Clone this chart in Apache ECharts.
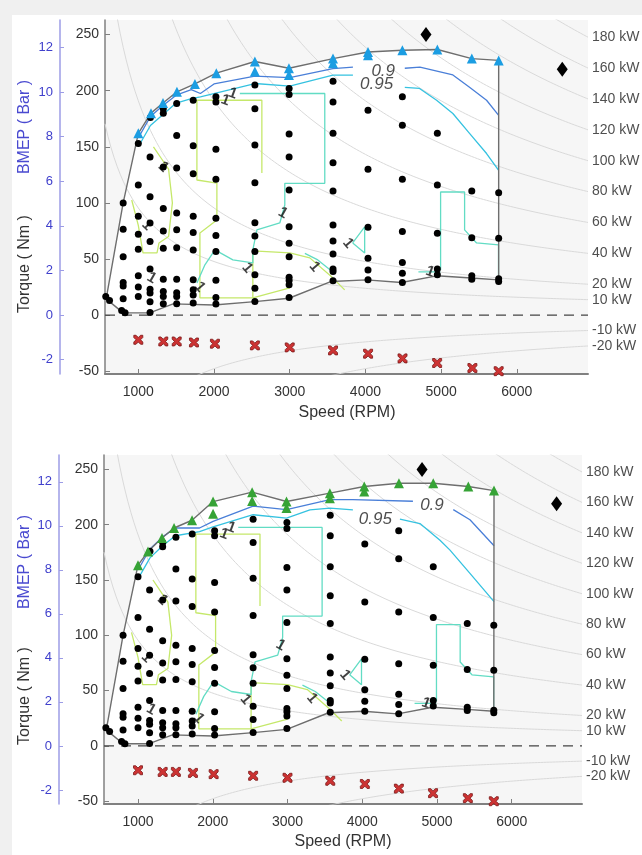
<!DOCTYPE html>
<html><head><meta charset="utf-8">
<script src="https://cdn.jsdelivr.net/npm/echarts@6/dist/echarts.min.js"></script>
<style>html,body{margin:0;padding:0;background:#f0f0f0;}#wrap{position:absolute;left:12px;top:15px;width:630px;height:840px;background:#fff;}#c{position:absolute;left:0;top:0;width:642px;height:855px;}</style>
</head><body><div id="wrap"></div><div id="c"></div>
<script>
// ---------- data ----------
const speedTicks = [1000, 2000, 3000, 4000, 5000, 6000];
const torqueTicks = [-50, 0, 50, 100, 150, 200, 250];
const bmepTicks = [-2, 0, 2, 4, 6, 8, 10, 12];
const powerLevels = [180, 160, 140, 120, 100, 80, 60, 40, 20, 10, -10, -20];
const NM_PER_BAR = 19.89;

const testPoints = [
 [570,16.5],[620,13],[780,4],[825,2],
 [800,100],[800,76.5],[800,52],[800,29],[800,26],[800,14.5],
 [1000,153],[1000,116],[1000,88],[1000,72],[1000,58.7],[1000,35],[1000,25],[1000,16.5],
 [1160,176],[1155,141],[1155,105.5],[1155,82],[1155,65.5],[1155,41],[1155,23],[1155,19.6],[1155,12],[1155,2.3],
 [1330,184],[1330,180],[1330,132],[1330,95],[1330,75],[1330,59.6],[1330,32],[1330,21],[1330,16.5],[1330,10],
 [1507,188.6],[1507,160],[1507,131],[1507,91],[1507,76],[1507,60],[1507,32],[1507,20],[1507,16.5],[1507,10],
 [1725,191.5],[1725,151],[1725,126],[1725,88],[1725,73.5],[1725,58],[1725,31.4],[1725,22.5],[1725,18],[1725,10.7],
 [2025,194.5],[2025,190],[2025,147.7],[2025,121],[2025,86.3],[2025,71],[2025,56.6],[2025,31],[2025,15.7],[2025,9.8],
 [2540,205],[2540,184],[2540,151.5],[2540,118],[2540,82.4],[2540,70.6],[2540,56.6],[2540,35.9],[2540,24],[2540,12.1],
 [2992,202],[2992,196.6],[2992,161.3],[2992,141],[2992,111.5],[2992,78.8],[2992,64],[2992,52],[2992,33.8],[2992,30.8],[2992,27],[2992,15.7],
 [3572,208.5],[3572,190],[3572,162],[3572,135.8],[3572,110.6],[3572,80.3],[3572,66],[3572,54.5],[3572,41],[3572,38.8],[3572,30.5],
 [4034,182.6],[4034,130],[4034,78.3],[4034,50.7],[4034,40.3],[4034,31.4],
 [4488,194.5],[4488,169.3],[4488,121],[4488,74.4],[4488,46.8],[4488,37.4],[4488,29],
 [4950,162],[4950,116],[4950,73],[4950,41],[4950,36],
 [5405,110.6],[5405,69],[5405,35],[5405,32],
 [5760,109],[5760,68.5],[5760,32.3],[5760,30]
];
const fullLoadTop = [
 [1000,162],[1168,180],[1326,189],[1510,199],[1748,206],[2030,215.6],[2540,226],[2540,217],
 [2990,220],[2990,214],[3572,228.6],[3572,224.5],[4034,234.5],[4034,231.6],[4488,236],[4950,236.7],[5405,228.6],[5760,227]
];
const fullLoadBottom = [
 [1000,163.4],[1134,175.7],[1321,188],[1482,197],[1723,204],[2004,220.9],[2004,210],[2527,229.4],[2527,221.5],
 [2987,221],[2987,215],[3567,228.5],[3567,224],[4027,234.5],[4027,230],[4491,237.5],[4950,237.5],[5419,234.5],[5763,230.8]
];
const motoringPoints = [
 [1000,-22],[1330,-23.5],[1507,-23.5],[1735,-24.4],[2012,-25.5],[2540,-27],[3000,-28.8],[3572,-31.5],
 [4035,-34.4],[4490,-38.6],[4947,-42.7],[5413,-47.2],[5760,-50]
];
const ratedPoints = [[4800,250],[6600,219]];
const lowerEdge = [
 [570,16.5],[620,12],[800,2],[1150,2],[1460,10],[2000,9],[2540,12],[2990,15],[3550,30],[4015,31.4],
 [4475,29],[4940,35],[5400,33],[5760,31.4]
];
const upperEdgeTop = [
 [5760,227],[5405,228.6],[4950,236.7],[4488,236],[4034,234.5],[3572,228.6],[2990,220],[2540,226],
 [2030,215.6],[1748,206],[1510,199],[1326,189],[1168,180],[1000,162],[800,100],[590,20],[570,16.5]
];
const upperEdgeBottom = [
 [5763,230.8],[5419,234.5],[4950,237.5],[4491,237.5],[4027,234.5],[3567,228.5],[2987,221],[2527,229.4],
 [2004,220.9],[1723,204],[1482,197],[1321,188],[1134,175.7],[1000,163.4],[800,100],[590,20],[570,16.5]
];
// efficiency contours
const c090Top = [[[1000,158],[1160,177],[1330,187],[1500,196],[1700,201],[1820,197.5],[2000,206],[2540,213],[3000,211.7],[3570,219.7],[3835,221]],
                 [[4520,220],[4720,221],[5155,214],[5375,203],[5600,191.5],[5760,178]]];
const c095Top = [[[1000,150],[1160,169],[1330,179],[1500,189],[1700,193],[1820,194.5],[2540,206.4],[3000,204],[3570,213.8],[3835,213.8]],
                 [[4520,203],[4715,202],[4940,191.5],[5155,179.7],[5375,162],[5600,144],[5760,129]]];
const c090Bottom = [[[1000,159],[1160,178],[1330,189],[1500,197],[1823,197],[2004,203],[2540,216.7],[2987,213.7],[3567,222.7],[3875,222.7],[4678,221.2]],
                    [[5218,213.6],[5441,204.5],[5763,181]]];
const c095Bottom = [[[1000,151],[1160,170],[1330,181],[1500,190],[1823,193.8],[2004,198],[2540,209],[2987,206],[3300,213.4],[3567,215],[3875,213.4]],
                    [[4504,205],[4772,201],[5040,186],[5174,177],[5441,156],[5763,130.5]]];
const c100 = [
 [[2341,197.5],[3463,197.5],[3463,117.4],[2935,117.4],[2935,98.1],[2869,82.1],[2566,75.9],[2513,58.1],[2513,46.5],[2249,49.2],[2012,58.1],[1880,44.8],[1774,28.7]],
 [[4993,40.3],[4993,109.7],[5310,109.7],[5310,75.9],[5468,64.3],[5758,62.5],[5758,31.4]],
 [[3832,64.3],[3990,78.6],[3990,55.4],[3832,64.3]],
 [[3200,55],[3371,49.2],[3569,38.5]],
 [[4700,38.5],[4990,38.5]]
];
const c105 = [
 [[2632,126.6],[2632,191.5],[1774,191.5],[1774,120.4],[2038,117.7],[2038,84.8],[1814,73.2],[1814,15.4],[2513,15.4],[3001,24.3]],
 [[2513,15.4],[2513,57.2],[3001,55.4],[3265,51],[3568,33.2],[3726,22.5]],
 [[913,102.6],[1000,80],[1062,55.4],[1247,55.4],[1273,64.3],[1400,70],[1450,100],[1400,130],[1300,140],[1200,150]]
];
const levelLabelsTop = [["0.9",4235,217],["0.95",4148,206]];
const levelLabelsBottom = [["0.9",4933,218],["0.95",4176,205]];
const oneLabels = [[2150,191.5,-20],[2250,197.5,-20],[1330,132,-45],[1115,80,-45],[1175,33,-30],[1813,25,-50],[2910,91,-30],[2440,42,-50],[3330,43,-50],[3770,64,-50],[4855,38.5,-20]];

// ---------- chart ----------
const FONT = '"Liberation Sans", Arial, sans-serif';
const panels = [
 {grid:{left:105,top:20,width:483,height:354}, xmin:560, xmax:6940, tri:fullLoadTop, triColor:'#1b9de2',
  upper:upperEdgeTop, c090:c090Top, c095:c095Top, lab:levelLabelsTop, speedY:413, bmepY:127, torqueY:264},
 {grid:{left:104,top:455,width:478,height:349}, xmin:545, xmax:6940, tri:fullLoadBottom, triColor:'#36a336',
  upper:upperEdgeBottom, c090:c090Bottom, c095:c095Bottom, lab:levelLabelsBottom, speedY:842, bmepY:562, torqueY:696}
];
const YMIN = -52.5, YMAX = 263;
const grids = [], xAxes = [], yAxes = [], series = [], graphics = [];
const xPath = 'path://M0,0 L2.5,0 L5,2.5 L7.5,0 L10,0 L10,2.5 L7.5,5 L10,7.5 L10,10 L7.5,10 L5,7.5 L2.5,10 L0,10 L0,7.5 L2.5,5 L0,2.5 Z';

panels.forEach((p, i) => {
  grids.push(Object.assign({show:true, backgroundColor:'#f6f6f6', borderWidth:0}, p.grid));
  xAxes.push({type:'value', gridIndex:i, min:p.xmin, max:p.xmax, splitLine:{show:false},
    axisLine:{onZero:false, lineStyle:{color:'#808080', width:2}},
    axisTick:{inside:true, length:5, customValues:speedTicks, lineStyle:{color:'#808080'}},
    axisLabel:{customValues:speedTicks, formatter:v => String(v), color:'#333', fontSize:14, fontFamily:FONT, margin:11}});
  yAxes.push({type:'value', gridIndex:i, min:YMIN, max:YMAX, splitLine:{show:false},
    axisLine:{show:true, onZero:false, lineStyle:{color:'#808080', width:1.5}},
    axisTick:{inside:true, length:5, customValues:torqueTicks, lineStyle:{color:'#808080'}},
    axisLabel:{customValues:torqueTicks, formatter:v => String(v), color:'#333', fontSize:14, fontFamily:FONT, margin:6}});
  yAxes.push({type:'value', gridIndex:i, position:'left', offset:45, min:YMIN/NM_PER_BAR, max:YMAX/NM_PER_BAR, splitLine:{show:false},
    axisLine:{show:true, onZero:false, lineStyle:{color:'#9c9ce6', width:1.5}},
    axisTick:{inside:true, length:4, customValues:bmepTicks, lineStyle:{color:'#9c9ce6'}},
    axisLabel:{customValues:bmepTicks, formatter:v => String(v), color:'#4040cc', fontSize:13, fontFamily:FONT, margin:7}});
  const xi = i, yi = i*2;
  const poly = lowerEdge.concat(p.upper);
  series.push({type:'custom', xAxisIndex:xi, yAxisIndex:yi, z:1, silent:true, data:[0],
    renderItem:(params, api) => ({type:'polygon', shape:{points: poly.map(q => api.coord(q))}, style:{fill:'#ffffff'}})});
  // iso-power reference curves: T = 9549*P/N
  powerLevels.forEach(P => {
    const pts = [];
    for (let n = p.xmin; n <= p.xmax + 1; n += 40) pts.push([n, 9549*P/n]);
    pts.push([p.xmax, 9549*P/p.xmax]);
    series.push({type:'line', xAxisIndex:xi, yAxisIndex:yi, z:2, data:pts, showSymbol:false, silent:true,
      lineStyle:{color:'#d9d9d9', width:1}, clip:true});
  });
  series.push({type:'scatter', xAxisIndex:xi, yAxisIndex:yi, z:3, symbolSize:0, clip:false, silent:true,
    data: powerLevels.map(P => [p.xmax, 9549*P/p.xmax, P]),
    label:{show:true, position:'right', distance:4, color:'#222', fontSize:14, fontFamily:FONT,
      formatter: d => d.data[2] + ' kW'}});
  series.push({type:'line', xAxisIndex:xi, yAxisIndex:yi, z:3, data:[[p.xmin,0],[p.xmax,0]], showSymbol:false, silent:true,
    lineStyle:{color:'#444', width:1.3, type:[10,7]}});
  const addLines = (segs, color) => segs.forEach(seg => series.push({type:'line', xAxisIndex:xi, yAxisIndex:yi, z:4, data:seg,
    showSymbol:false, silent:true, lineStyle:{color:color, width:1.3}}));
  addLines(c105, '#c5e86a');
  addLines(c100, '#62dcc4');
  addLines(p.c095, '#35c2e0');
  addLines(p.c090, '#4a7fd8');
  series.push({type:'scatter', xAxisIndex:xi, yAxisIndex:yi, z:5, symbolSize:0, silent:true,
    data:p.lab.map(l => [l[1], l[2], l[0]]),
    label:{show:true, position:'inside', color:'#222', fontSize:17, fontStyle:'italic', fontFamily:FONT, formatter:d => d.data[2]}});
  oneLabels.forEach(o => series.push({type:'scatter', xAxisIndex:xi, yAxisIndex:yi, z:5, symbolSize:0, silent:true,
    data:[[o[0], o[1]]], label:{show:true, position:'inside', rotate:o[2], color:'#111', fontSize:15, fontWeight:'bold', fontFamily:FONT, formatter:'1'}}));
  series.push({type:'line', xAxisIndex:xi, yAxisIndex:yi, z:6, data:poly, showSymbol:false, silent:true,
    lineStyle:{color:'#6e6e6e', width:1.4}});
  series.push({type:'scatter', xAxisIndex:xi, yAxisIndex:yi, z:7, data:testPoints, symbol:'circle', symbolSize:7,
    itemStyle:{color:'#000', opacity:1}});
  series.push({type:'scatter', xAxisIndex:xi, yAxisIndex:yi, z:8, data:p.tri, symbol:'triangle', symbolSize:[10,10],
    itemStyle:{color:p.triColor, opacity:1}});
  series.push({type:'scatter', xAxisIndex:xi, yAxisIndex:yi, z:8, data:motoringPoints, symbol:xPath, symbolSize:9,
    itemStyle:{color:'#cc3333', borderColor:'#7a1616', borderWidth:0.8, opacity:1}});
  series.push({type:'scatter', xAxisIndex:xi, yAxisIndex:yi, z:8, data:ratedPoints, symbol:'diamond', symbolSize:[11,15], clip:false,
    itemStyle:{color:'#000', opacity:1}});
  graphics.push({type:'text', x:(i===0?347:343), y:p.speedY, style:{text:'Speed (RPM)', font:'16px '+FONT, fill:'#333', textAlign:'center', textVerticalAlign:'middle'}});
  graphics.push({type:'text', x:25, y:p.bmepY, rotation:Math.PI/2, style:{text:'BMEP ( Bar )', font:'16px '+FONT, fill:'#4a4ad0', textAlign:'center', textVerticalAlign:'middle'}});
  graphics.push({type:'text', x:25, y:p.torqueY, rotation:Math.PI/2, style:{text:'Torque ( Nm )', font:'16px '+FONT, fill:'#333', textAlign:'center', textVerticalAlign:'middle'}});
});

const chart = echarts.init(document.getElementById('c'), null, {renderer:'canvas', width:642, height:855});
chart.setOption({animation:false, backgroundColor:'transparent', grid:grids, xAxis:xAxes, yAxis:yAxes, series:series, graphic:graphics});
</script></body></html>
